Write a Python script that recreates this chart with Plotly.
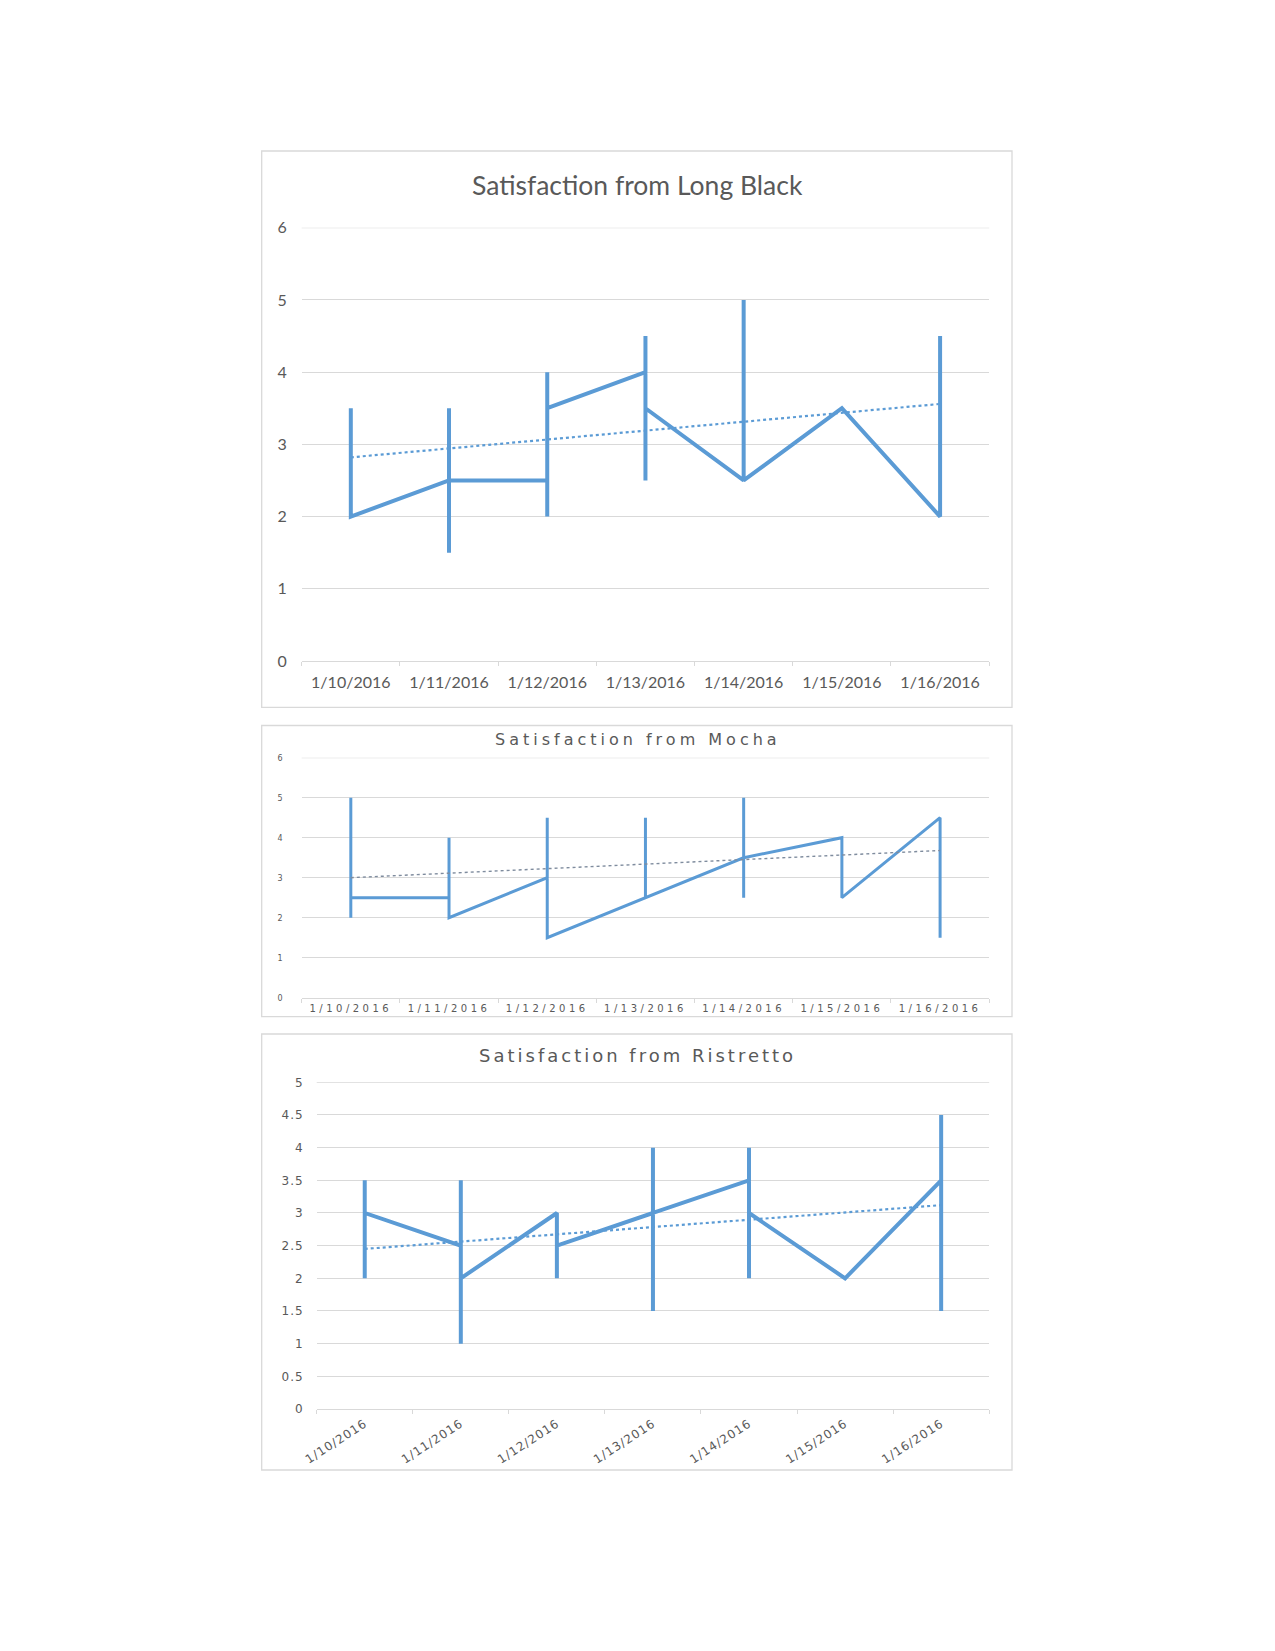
import plotly.graph_objects as go

W, H = 1275, 1651

dates = ["1/10/2016", "1/11/2016", "1/12/2016", "1/13/2016", "1/14/2016", "1/15/2016", "1/16/2016"]

# Sequential ratings per date (several readings per day, drawn in order)
lb_x = ["1/10/2016", "1/10/2016",
        "1/11/2016", "1/11/2016", "1/11/2016", "1/11/2016",
        "1/12/2016", "1/12/2016", "1/12/2016", "1/12/2016",
        "1/13/2016", "1/13/2016", "1/13/2016", "1/13/2016",
        "1/14/2016", "1/14/2016", "1/14/2016",
        "1/15/2016",
        "1/16/2016", "1/16/2016", "1/16/2016"]
lb_y = [3.5, 2,
        2.5, 3.5, 1.5, 2.5,
        2.5, 2, 4, 3.5,
        4, 4.5, 2.5, 3.5,
        2.5, 5, 2.5,
        3.5,
        2, 4.5, 2]
lb_trend = [2.82, 3.56]

mo_x = ["1/10/2016", "1/10/2016", "1/10/2016",
        "1/11/2016", "1/11/2016", "1/11/2016",
        "1/12/2016", "1/12/2016", "1/12/2016",
        "1/13/2016", "1/13/2016", "1/13/2016",
        "1/14/2016", "1/14/2016", "1/14/2016", "1/14/2016",
        "1/15/2016", "1/15/2016",
        "1/16/2016", "1/16/2016"]
mo_y = [5, 2, 2.5,
        2.5, 4, 2,
        3, 4.5, 1.5,
        2.5, 4.5, 2.5,
        3.5, 5, 2.5, 3.5,
        4, 2.5,
        4.5, 1.5]
mo_trend = [3.0, 3.68]

ri_x = ["1/10/2016", "1/10/2016", "1/10/2016",
        "1/11/2016", "1/11/2016", "1/11/2016", "1/11/2016",
        "1/12/2016", "1/12/2016", "1/12/2016",
        "1/13/2016", "1/13/2016", "1/13/2016", "1/13/2016",
        "1/14/2016", "1/14/2016", "1/14/2016", "1/14/2016",
        "1/15/2016",
        "1/16/2016", "1/16/2016", "1/16/2016"]
ri_y = [3.5, 2, 3,
        2.5, 3.5, 1, 2,
        3, 2, 2.5,
        3, 4, 1.5, 3,
        3.5, 4, 2, 3,
        2,
        3.5, 4.5, 1.5]
ri_trend = [2.45, 3.12]

titles = ["Satisfaction from Long Black", "Satisfaction from Mocha", "Satisfaction from Ristretto"]

lb_ymax = 6
mo_ymax = 6
ri_ymax = 5
mo_yticks = [0, 1, 2, 3, 4, 5, 6]
ri_yticks = [0, 0.5, 1, 1.5, 2, 2.5, 3, 3.5, 4, 4.5, 5]

BLUE = "#5B9BD5"
GRID = "#D9D9D9"
TXT = "#595959"


def px_x(v):
    return v / W


def px_y(v):
    return 1 - v / H


def spaced(s, sp):
    return '<span style="letter-spacing:%spx">%s</span>' % (sp, s)


fig = go.Figure()

specs = [
    (lb_x, lb_y, lb_trend, "", 4.0, BLUE, 2.2),
    (mo_x, mo_y, mo_trend, "2", 3.0, "#7F8C9E", 1.4),
    (ri_x, ri_y, ri_trend, "3", 4.0, BLUE, 2.2),
]
for xs, ys, tr, ax, lw, tc, tw in specs:
    fig.add_trace(go.Scatter(x=xs, y=ys, mode="lines",
                             line=dict(color=BLUE, width=lw),
                             xaxis="x" + ax, yaxis="y" + ax, showlegend=False, hoverinfo="skip"))
    fig.add_trace(go.Scatter(x=[dates[0], dates[-1]], y=tr, mode="lines",
                             line=dict(color=tc, width=tw, dash="dot"),
                             xaxis="x" + ax, yaxis="y" + ax, showlegend=False, hoverinfo="skip"))


def xaxis(domain, anchor, font, angle=0, ticktext=None, standoff=0):
    d = dict(domain=domain, anchor=anchor, type="category", categoryorder="array",
             categoryarray=dates, range=[-0.5, 6.5], tickson="boundaries",
             ticks="outside", ticklen=4, tickcolor=GRID, showline=True, linecolor=GRID,
             linewidth=1.3, showgrid=False, zeroline=False, tickangle=angle,
             tickfont=font, fixedrange=True, ticklabelstandoff=standoff, automargin=False)
    if ticktext is not None:
        d.update(tickmode="array", tickvals=dates, ticktext=ticktext)
    return d


def yaxis(domain, anchor, rng, dtick, font, standoff, tickvals=None, ticktext=None):
    d = dict(domain=domain, anchor=anchor, range=rng, dtick=dtick, showgrid=True,
             gridcolor=GRID, gridwidth=1.3, zeroline=False, showline=False, ticks="",
             tickfont=font, ticklabelstandoff=standoff, fixedrange=True, automargin=False)
    if tickvals is not None:
        d.update(tickmode="array", tickvals=tickvals, ticktext=ticktext)
    return d


f1 = dict(family="Lato", size=16, color=TXT)
f2 = dict(family="DejaVu Sans", size=10, color=TXT)
f2y = dict(family="DejaVu Sans", size=8, color=TXT)
f3 = dict(family="DejaVu Sans", size=12, color=TXT)

xd12 = [px_x(301.7), px_x(989.2)]
xd3 = [px_x(316.7), px_x(989.2)]

fig.update_layout(
    width=W, height=H, margin=dict(l=0, r=0, t=0, b=0, pad=0, autoexpand=False),
    paper_bgcolor="white", plot_bgcolor="white", showlegend=False,
    xaxis=xaxis(xd12, "y", f1, standoff=7),
    yaxis=yaxis([px_y(661.0), px_y(227.7)], "x", [0, lb_ymax], 1, f1, 14),
    xaxis2=xaxis(xd12, "y2", f2, ticktext=[spaced(d, 3.5) for d in dates], standoff=1),
    yaxis2=yaxis([px_y(997.7), px_y(757.7)], "x2", [0, mo_ymax], 1, f2y, 16,
                 tickvals=mo_yticks, ticktext=[spaced(str(v), 2) for v in mo_yticks]),
    xaxis3=xaxis(xd3, "y3", f3, angle=-33, ticktext=[spaced(d, 1) for d in dates], standoff=2),
    yaxis3=yaxis([px_y(1409.0), px_y(1082.3)], "x3", [0, ri_ymax], 0.5, f3, 12,
                 tickvals=ri_yticks, ticktext=[spaced(str(v), 1) for v in ri_yticks]),
)

# top gridline of each chart (at the axis maximum), drawn on the axis scale
for ax, ymax in [("", lb_ymax), ("2", mo_ymax), ("3", ri_ymax)]:
    fig.add_shape(type="line", xref="x%s domain" % ax, yref="y" + ax,
                  x0=0, x1=1, y0=ymax, y1=ymax, line=dict(color=GRID, width=1.3), layer="below")

boxes = [(151.0, 707.3), (725.5, 1016.7), (1034.0, 1470.0)]
for top, bot in boxes:
    fig.add_shape(type="rect", xref="paper", yref="paper",
                  x0=px_x(261.7), x1=px_x(1012.0), y0=px_y(bot), y1=px_y(top),
                  line=dict(color=GRID, width=1.3), fillcolor="rgba(0,0,0,0)", layer="below")

title_specs = [(185.3, dict(family="Lato", size=26.5, color=TXT), None),
               (739.0, dict(family="DejaVu Sans", size=16, color=TXT), 4),
               (1055.0, dict(family="DejaVu Sans", size=18, color=TXT), 3)]
for t, (ty, tf, sp) in zip(titles, title_specs):
    txt = t if sp is None else spaced(t, sp)
    fig.add_annotation(text=txt, xref="paper", yref="paper", x=px_x(637.5), y=px_y(ty),
                       xanchor="center", yanchor="middle", showarrow=False, font=tf)

fig.write_html("out.html")
